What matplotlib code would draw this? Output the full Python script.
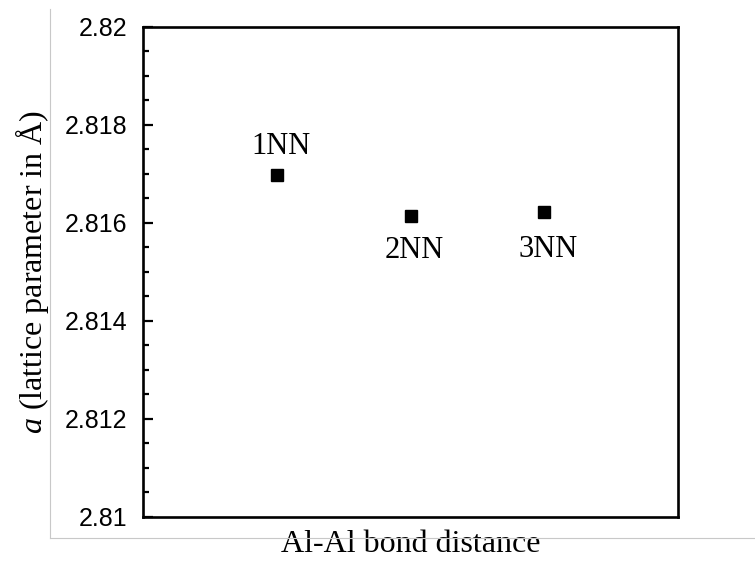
import matplotlib
matplotlib.use("Agg")
import matplotlib.pyplot as plt
from matplotlib.lines import Line2D
from matplotlib.ticker import MultipleLocator, FixedLocator

plt.rcParams['mathtext.fontset'] = 'custom'
plt.rcParams['mathtext.it'] = 'Liberation Serif:italic'
plt.rcParams['mathtext.rm'] = 'Liberation Serif'

labels = ["1NN", "2NN", "3NN"]
xpos = [1, 2, 3]
lattice = [2.81698, 2.81614, 2.81622]
label_offsets = [(3, 23), (3, -22), (3, -24)]  # points

fig = plt.figure(figsize=(7.55, 5.61), dpi=100)
ax = fig.add_axes([143/755, 1-517/561, (678-143)/755, (517-27)/561])

ax.plot(xpos, lattice, linestyle='none', marker='s', markersize=8.5, color='black')
for x, y, lab, off in zip(xpos, lattice, labels, label_offsets):
    ax.annotate(lab, (x, y), xytext=off, textcoords='offset points',
                ha='center', va='center_baseline', fontsize=22, family='Liberation Serif')

ax.set_xlim(0, 4)
ax.set_ylim(2.81, 2.82)
ax.set_xticks([])
ax.yaxis.set_major_locator(FixedLocator([2.81, 2.812, 2.814, 2.816, 2.818, 2.82]))
ax.yaxis.set_minor_locator(MultipleLocator(0.0005))
ax.set_yticklabels(["2.81", "2.812", "2.814", "2.816", "2.818", "2.82"])
ax.tick_params(axis='y', which='major', direction='in', length=7.5, width=1.6,
               labelsize=18, pad=11)
ax.tick_params(axis='y', which='minor', direction='in', length=4.5, width=1.6)
for lab in ax.get_yticklabels():
    lab.set_family('Liberation Sans')
for s in ax.spines.values():
    s.set_linewidth(1.9)

ax.set_xlabel("Al-Al bond distance", fontsize=23, family='Liberation Serif', labelpad=9)
ax.set_ylabel(r"$\mathit{a}$ (lattice parameter in Å)", fontsize=23,
              family='Liberation Serif', labelpad=10)

# light frame lines (left and bottom)
fig.add_artist(Line2D([50/755, 50/755], [1-538/561, 1-9/561], transform=fig.transFigure,
                      color='#c8c8c8', linewidth=0.8))
fig.add_artist(Line2D([50/755, 1.0], [1-538/561, 1-538/561], transform=fig.transFigure,
                      color='#c8c8c8', linewidth=0.8))

fig.savefig("out.png", dpi=100)
